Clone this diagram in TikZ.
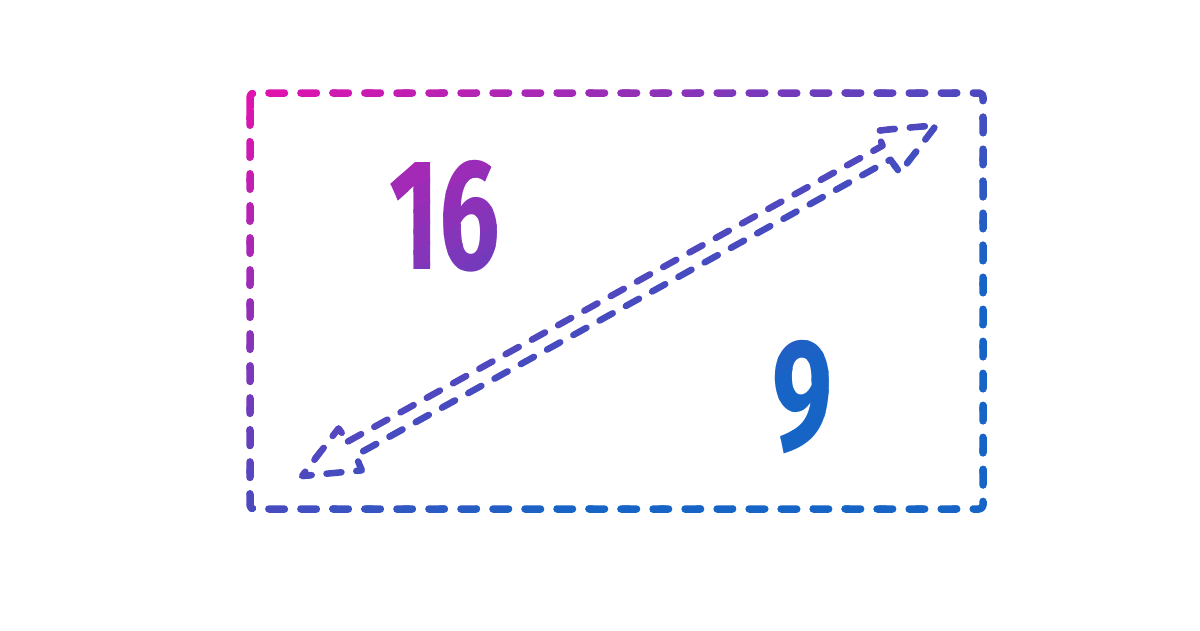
\documentclass[tikz,border=0pt]{standalone}
\usepackage{fontspec}
\setmainfont{Fira Sans}
\usepackage{tikz}
\usetikzlibrary{calc}

\definecolor{ratiomag}{HTML}{E212AE}
\definecolor{ratiomid}{HTML}{4A4AC0}
\definecolor{ratioblue}{HTML}{1665C6}

\tikzset{
  boxline/.style={line width=0.075cm, line cap=round, line join=round,
    dash pattern=on 0.155cm off 0.165cm, rounded corners=0.04cm},
  arrowline/.style={line width=0.065cm, line cap=round, line join=round,
    dash pattern=on 0.15cm off 0.15cm},
  numtext/.style={font=\fontsize{45}{50}\selectfont\bfseries, inner sep=0pt, xscale=0.68}
}

% everything that gets the diagonal colour ramp
\newcommand\ratioshapes{%
  \draw[boxline] (250,112) -- (250,93) -- (983,93) -- (983,509) -- (250,509) -- cycle;
  \begin{scope}[shift={(302,476)}, rotate=28.95]
    \draw[arrowline] (57,-8) -- (668,-8) -- (670,-24) -- (725,0) -- (670,24)
      -- (668,8) -- (57,8) -- (55,24) -- (0,0) -- (55,-24) -- cycle;
  \end{scope}
  \node[numtext] (sixteen) at (445,216) {16};
  \node[numtext] (nine) at (803,397) {9};
}

\begin{document}
\begin{tikzpicture}[x=0.01cm, y=-0.01cm]
\useasboundingbox (0,0) rectangle (1200,630);
\foreach \i in {0,...,39}{
  \pgfmathsetmacro\sa{ifthenelse(\i==0,-2,\i/20)}
  \pgfmathsetmacro\sb{ifthenelse(\i==39,4,(\i+1)/20+0.01)}
  \pgfmathtruncatemacro\q{ifthenelse(\i<20,2.5*(2*\i+1),min(100,((2*\i+1)/80-0.5)*100/0.22))}
  \ifnum\i<20 \colorlet{bandcol}{ratiomid!\q!ratiomag}\else\colorlet{bandcol}{ratioblue!\q!ratiomid}\fi
  \begin{scope}[color=bandcol]
    \clip[shift={(250,93)}, xscale=733, yscale=416]
      (\sa+2,-2) -- (\sa-2,2) -- (\sb-2,2) -- (\sb+2,-2) -- cycle;
    \ratioshapes
  \end{scope}
}
\end{tikzpicture}
\end{document}
